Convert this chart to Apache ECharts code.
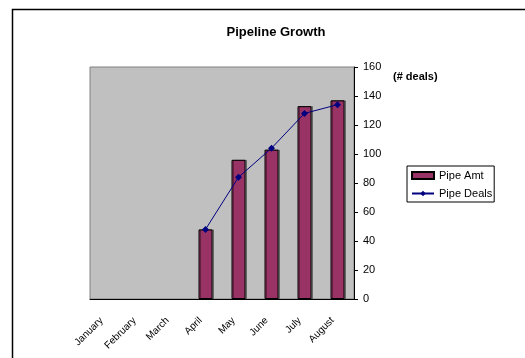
<!DOCTYPE html>
<html><head><meta charset="utf-8">
<script src="https://cdn.jsdelivr.net/npm/echarts@6/dist/echarts.min.js"></script>
<style>html,body{margin:0;padding:0;background:#fff}#c{width:525px;height:358px}</style>
</head><body><div id="c"></div>
<script>
const months = ['January','February','March','April','May','June','July','August'];
const pipeAmt = [null, null, null, 48, 96, 103, 133, 137];
const pipeDeals = [null, null, null, 48, 84, 104, 128, 134];
const yTicks = [0, 160, 20];

const chart = echarts.init(document.getElementById('c'), null, {renderer:'canvas'});
const F = 'Liberation Sans, Arial, sans-serif';
chart.setOption({
  animation:false,
  backgroundColor:'#fff',
  title:{text:'Pipeline Growth', left:271, textAlign:'center', top:21,
    textStyle:{fontFamily:F, fontSize:13, fontWeight:'bold', color:'#000'}},
  graphic:[
    {type:'rect', shape:{x:12.5, y:9.5, width:600, height:400}, style:{fill:null, stroke:'#000', lineWidth:1.5}},
    {type:'text', left:393, top:71, style:{text:'(# deals)', font:'bold 11px '+F, fill:'#000'}}
  ],
  legend:{orient:'vertical', left:407, top:166,
    padding:[4,2,3,4], itemGap:7, itemWidth:22, itemHeight:7,
    borderColor:'#000', borderWidth:1, backgroundColor:'#fff',
    textStyle:{fontFamily:F, fontSize:11, color:'#000'},
    data:[{name:'Pipe Amt', icon:'rect'}, {name:'Pipe Deals'}]},
  grid:{left:90, right:171, top:67, bottom:59, show:true, backgroundColor:'#C0C0C0', borderColor:'#808080', borderWidth:1},
  xAxis:{type:'category', data:months, boundaryGap:true,
    axisLine:{lineStyle:{color:'#000', width:1}},
    axisTick:{length:4, lineStyle:{color:'#000'}},
    axisLabel:{rotate:45, fontFamily:F, fontSize:10, color:'#000', margin:15, padding:[0,7,0,0], interval:0}},
  yAxis:{type:'value', position:'right', min:yTicks[0], max:yTicks[1], interval:yTicks[2],
    axisLine:{show:true, lineStyle:{color:'#000', width:1}},
    axisTick:{show:true, length:4, lineStyle:{color:'#000'}},
    splitLine:{show:false},
    axisLabel:{fontFamily:F, fontSize:11, color:'#000', margin:9}},
  series:[
    {name:'Pipe Amt', type:'bar', data:pipeAmt, barWidth:14,
      itemStyle:{color:'#993366', borderColor:'#000', borderWidth:1, shadowColor:'rgba(0,0,0,0.35)', shadowOffsetX:1.5, shadowOffsetY:0}},
    {name:'Pipe Deals', type:'line', data:pipeDeals, symbol:'diamond', symbolSize:7,
      lineStyle:{color:'#000080', width:1}, itemStyle:{color:'#000080'}}
  ]
});
</script></body></html>
